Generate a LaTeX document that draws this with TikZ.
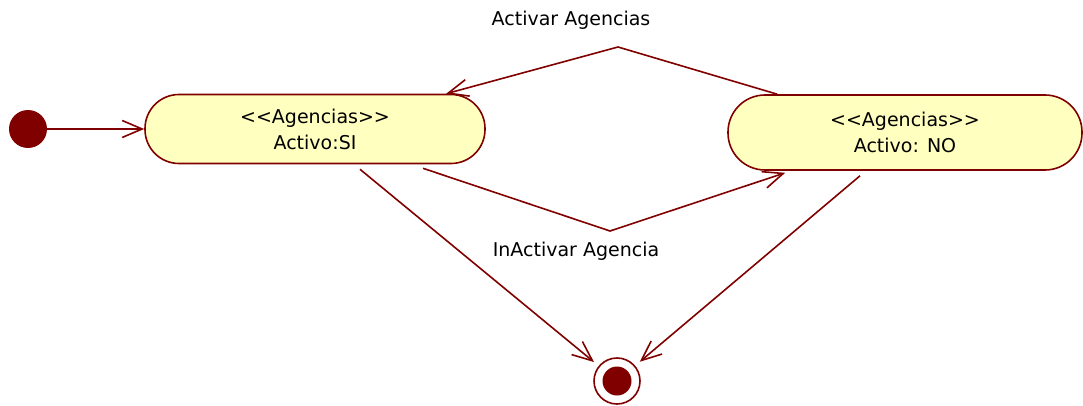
\documentclass[tikz,border=0pt]{standalone}
\usepackage{fontspec}
\setmainfont{DejaVu Sans}
\usetikzlibrary{arrows.meta,calc}
\definecolor{dred}{HTML}{800000}
\definecolor{sfill}{HTML}{FFFFC0}
\begin{document}
\begin{tikzpicture}[x=1pt,y=-1pt,
  every node/.style={font=\fontsize{19}{26}\selectfont},
  statebox/.style={draw=dred,fill=sfill,line width=1.6pt,align=center,inner sep=0pt},
  conn/.style={draw=dred,line width=1.6pt,-{Straight Barb[length=20pt,width=17pt,line width=1.6pt]}},
  lbl/.style={text=black}]
\useasboundingbox (0,0) rectangle (1083,406);
\node[circle,fill=dred,minimum size=38pt,inner sep=0pt] (init) at (28,129) {};
\node[statebox,minimum width=340pt,minimum height=69pt,rounded corners=34pt] (s1) at (315,129) {<{}<Agencias>{}>\\Activo:SI};
\node[statebox,minimum width=354pt,minimum height=75pt,rounded corners=37pt] (s2) at (905,132.5) {<{}<Agencias>{}>\\Activo: NO};
\node[circle,draw=dred,line width=1.6pt,fill=white,minimum size=46pt,inner sep=0pt] (final) at (617,381) {};
\node[circle,fill=dred,minimum size=29pt,inner sep=0pt] (finalin) at (617,381) {};
\coordinate (top) at (618,47);
\coordinate (bot) at (610,231);
\node[lbl] (l1) at (571,20) {Activar Agencias};
\node[lbl] (l2) at (576,251) {InActivar Agencia};
\draw[conn] (init) -- (s1.west);
\draw[conn] ([xshift=50pt]s2.north west) -- (top) -- ([xshift=302pt]s1.north west);
\draw[conn] ($(s1.south)+(108,4)$) -- (bot) -- ($(s2.south west)+(58,2)$);
\draw[conn,shorten >=6pt] ($(s1.south)+(45,5)$) -- (final);
\draw[conn,shorten >=6pt] ($(s2.south)+(-45,5)$) -- (final);
\end{tikzpicture}
\end{document}
